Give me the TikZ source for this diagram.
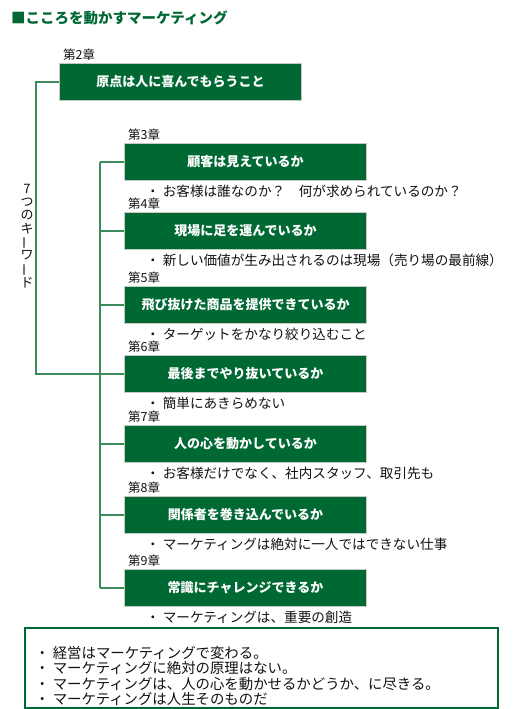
\documentclass[tikz,border=0pt]{standalone}
\usepackage{fontspec}
\setmainfont{Noto Sans CJK JP}
\usetikzlibrary{positioning,calc}
\definecolor{kokorogreen}{HTML}{006933}
\definecolor{kokoroline}{HTML}{3D8B5C}
\definecolor{kokoroedge}{HTML}{C8C8C8}
\definecolor{kokoroink}{HTML}{111111}

\begin{document}
\begin{tikzpicture}[
    x=1pt,
    y=-1pt,
    chapbox/.style={draw=kokoroedge, fill=kokorogreen, line width=1pt, minimum width=242pt, minimum height=37pt,
      inner sep=0pt, text=white, font=\fontsize{13}{15}\selectfont\bfseries},
    chaplabel/.style={anchor=south west, inner sep=0pt, text=kokoroink, font=\fontsize{12.5}{13}\selectfont},
    notetext/.style={anchor=north west, inner sep=0pt, text=kokoroink, font=\fontsize{13.6}{15}\selectfont},
    link/.style={draw=kokoroline, line width=1.5pt}
  ]
    \useasboundingbox (0,0) rectangle (520,709);

    \node[anchor=west, inner sep=0pt, text=kokorogreen, font=\fontsize{14.5}{16}\selectfont\bfseries] (title) at (11,18)
      {■こころを動かすマーケティング};

    % Chapter 2 (top level)
    \node[chapbox, anchor=north west] (B2) at (59,63) {原点は人に喜んでもらうこと};
    \node[chaplabel] (L2) at ($(B2.north west)+(4,-2)$) {第2章};

    % Chapters 3 to 9
    \foreach \n/\ytop/\chead/\cnote in {
        3/143/顧客は見えているか/・ お客様は誰なのか？　何が求められているのか？,
        4/212/現場に足を運んでいるか/・ 新しい価値が生み出されるのは現場（売り場の最前線）,
        5/286/飛び抜けた商品を提供できているか/・ ターゲットをかなり絞り込むこと,
        6/355/最後までやり抜いているか/・ 簡単にあきらめない,
        7/425/人の心を動かしているか/・ お客様だけでなく、社内スタッフ、取引先も,
        8/496/関係者を巻き込んでいるか/・ マーケティングは絶対に一人ではできない仕事,
        9/569/常識にチャレンジできるか/・ マーケティングは、重要の創造} {
      \node[chapbox, anchor=north west] (B\n) at (124,\ytop) {\chead};
      \node[chaplabel] (L\n) at ($(B\n.north west)+(4,-2)$) {第{\n}章};
      \node[notetext] (N\n) at ($(B\n.south west)+(22,4)$) {\cnote};
    }

    % Keyword label (vertical)
    \node[inner sep=0pt, align=center, text=kokoroink, font=\fontsize{13}{13.2}\selectfont] (keyword) at (27,236)
      {7\\つ\\の\\キ\\\rotatebox[origin=c]{90}{ー}\\ワ\\\rotatebox[origin=c]{90}{ー}\\ド};

    % Connectors
    \coordinate (trunk) at (36,0);
    \coordinate (spine) at (100,0);
    \draw[link] (B2.west) -| (trunk |- B6.west) -- (B6.west);
    \draw[link] (spine |- B3.west) -- (spine |- B9.west);
    \foreach \n in {3,4,5,7,8,9} {
      \draw[link] (spine |- B\n.west) -- (B\n.west);
    }

    % Summary box
    \node[draw=kokorogreen, line width=2pt, minimum width=473pt, minimum height=80pt, anchor=north west, inner sep=0pt] (summary) at (24,627) {};
    \node[anchor=north west, inner sep=0pt, align=left, text=kokoroink, font=\fontsize{14.4}{15.5}\selectfont] (summarytext) at ($(summary.north west)+(11,19)$)
      {・ 経営はマーケティングで変わる。\\
       ・ マーケティングに絶対の原理はない。\\
       ・ マーケティングは、人の心を動かせるかどうか、に尽きる。\\
       ・ マーケティングは人生そのものだ};

  \end{tikzpicture}
\end{document}
